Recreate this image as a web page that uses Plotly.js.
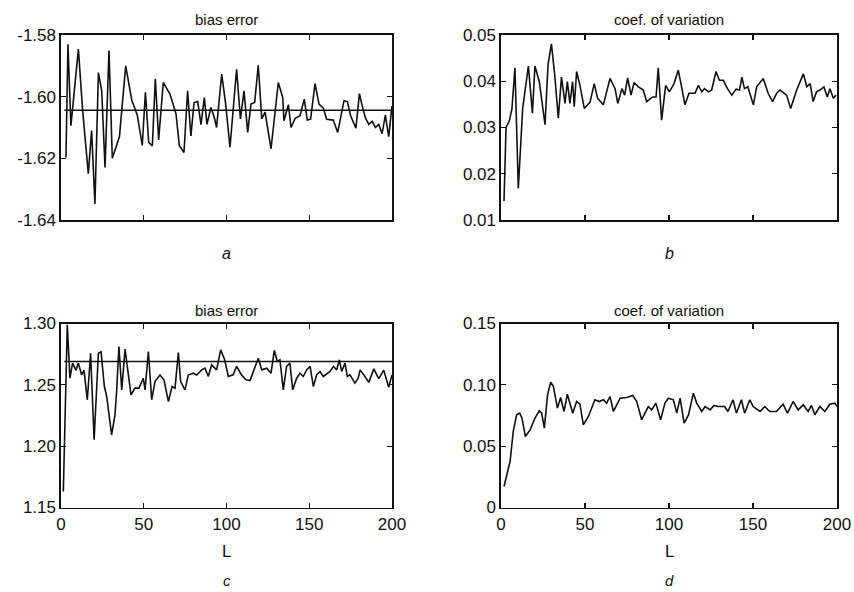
<!DOCTYPE html>
<html>
<head>
<meta charset="utf-8">
<script src="https://cdn.plot.ly/plotly-3.0.1.min.js"></script>
<style>html,body{margin:0;padding:0;background:#fff;}#chart{width:854px;height:592px;}</style>
</head>
<body>
<div id="chart"></div>
<script>
// Panel a: bias error
const aL   = [3,4.2,6,7.5,10.5,13.1,16.5,18.5,20.5,22.6,24.6,26.6,29,31,35.3,39.1,42.7,46.1,49.1,51,53,55.2,57,59,61.8,65.9,69.5,71.5,74.3,76.5,78.5,80.4,82.6,84.6,86.6,88.2,90.6,92.5,94,97.1,99.5,102.1,106.1,108.4,110.6,112.8,114.8,117,119.2,121.3,123.3,126.9,131.3,134,134.7,137.4,139,141.5,144.4,147,148.8,150.8,153.5,155.9,158.5,160.5,164.5,167.2,171,173,175,178.2,180.3,182,184,186,188,190,192,194,196,198,200];
const aVal = [-1.6197,-1.583,-1.6094,-1.6008,-1.5846,-1.6046,-1.625,-1.611,-1.6348,-1.5922,-1.5981,-1.623,-1.585,-1.620,-1.613,-1.590,-1.601,-1.606,-1.6158,-1.5986,-1.6148,-1.616,-1.5942,-1.614,-1.5954,-1.5992,-1.6056,-1.6159,-1.6181,-1.5981,-1.6127,-1.6019,-1.6016,-1.6091,-1.6003,-1.609,-1.6035,-1.6065,-1.610,-1.5927,-1.6024,-1.6164,-1.5911,-1.6072,-1.5981,-1.6116,-1.6024,-1.6019,-1.5898,-1.6072,-1.605,-1.6169,-1.5954,-1.6003,-1.6078,-1.6026,-1.610,-1.607,-1.6062,-1.6008,-1.6076,-1.6073,-1.5958,-1.6024,-1.6037,-1.6073,-1.6076,-1.6116,-1.6013,-1.6016,-1.6062,-1.6102,-1.5990,-1.603,-1.607,-1.609,-1.608,-1.610,-1.609,-1.612,-1.606,-1.613,-1.603];
const aRef = -1.6044;

// Panel b: coef. of variation
const bL   = [1.8,3,5,6.5,8.3,10.3,12.9,16.3,18.7,20.2,22.8,26.2,28,30,32,34.1,36,38.1,39.5,41,42.6,43.6,45,47,49.6,53,55.5,57.5,60.9,64.9,67.9,69.5,72,73.6,75.4,77.4,79.2,81.8,84.7,86.7,90.3,92.3,93.6,95.6,98,100.2,103,105.5,107.5,109.5,111.9,115.5,117.5,119.5,121.1,123.5,125.4,128,130,132.4,134.8,137.4,140,142,143.4,144.9,146.9,150.2,152.2,156.1,159,161.7,164.1,166.1,170,172.4,176,180,182,184,185.8,187.8,189.8,192.2,194.2,195.8,197.8,199.4];
const bVal = [0.0141,0.030,0.0315,0.034,0.0429,0.0168,0.0341,0.0433,0.0331,0.0433,0.0399,0.0306,0.0436,0.0481,0.0413,0.032,0.0409,0.0352,0.0399,0.0352,0.0399,0.0345,0.0421,0.0391,0.0341,0.0355,0.0395,0.0363,0.0349,0.0406,0.0384,0.0352,0.0384,0.037,0.0407,0.037,0.0397,0.0388,0.0381,0.0356,0.0366,0.0366,0.0429,0.0316,0.0391,0.0377,0.0395,0.0424,0.0388,0.0349,0.0374,0.0374,0.0391,0.0377,0.0384,0.0377,0.0381,0.0421,0.0402,0.0402,0.0384,0.037,0.0383,0.0381,0.0409,0.0384,0.0388,0.0349,0.0388,0.0406,0.0374,0.0356,0.0374,0.0381,0.037,0.0341,0.0381,0.0416,0.0388,0.0395,0.0356,0.0377,0.0381,0.0388,0.0366,0.0384,0.0363,0.037];

// Panel c: bias error
const cL   = [1.4,3.8,5.4,7,9,10.5,12.5,13.9,15.9,17.9,20,22.6,24.2,26.2,27.6,30.6,32.6,33.6,35,36.7,38.7,42.3,44.7,47.1,49.7,50.8,52.8,54.8,56.8,59.8,62.2,64.9,67.1,68.9,70.9,72.3,74.9,76.9,80,82,85,87,89,91,94,96.5,98.9,101.1,104,106.1,109,111.8,114.2,117.2,119.2,121.3,124.3,126.9,128.9,130.7,132.3,134.3,136.3,138.3,140,142.4,144.4,146.4,148.4,150.5,152.5,154.5,156.5,158.5,162.5,164.6,166.6,168.2,169.6,171.6,173,174.6,177.6,179.6,180.7,183,186,189,192,195,198,200];
const cVal = [1.163,1.299,1.2554,1.2677,1.262,1.2677,1.258,1.262,1.2378,1.2758,1.2052,1.2758,1.277,1.2486,1.2405,1.2092,1.2255,1.2446,1.2813,1.2459,1.2791,1.2418,1.2473,1.2473,1.2554,1.2459,1.2772,1.2378,1.2527,1.258,1.2541,1.2364,1.2486,1.2473,1.2764,1.2527,1.2459,1.258,1.2595,1.258,1.2622,1.2636,1.2568,1.2663,1.2622,1.2785,1.2704,1.2568,1.2582,1.265,1.2582,1.2541,1.2535,1.265,1.2717,1.2622,1.2636,1.2595,1.278,1.2690,1.2704,1.2459,1.265,1.2677,1.2459,1.2554,1.2595,1.2568,1.2622,1.265,1.2486,1.2582,1.2609,1.2568,1.2609,1.265,1.2622,1.2704,1.2609,1.2677,1.2568,1.2582,1.2514,1.2554,1.2622,1.258,1.252,1.263,1.255,1.262,1.248,1.258];
const cRef = 1.269;

// Panel d: coef. of variation
const dL   = [1.8,3.4,5.4,7.3,9.3,11.1,12.5,14.5,17.3,20.2,22.8,24.2,25.8,27.7,29.6,31.2,33.6,35.5,37.5,39.5,41.5,42.7,45,47,49,52,55.9,58.5,60.9,62.9,64.9,66.9,68.9,70.9,74.8,78.4,80.8,83.7,85.7,87.7,89.7,92.2,95,97.6,99.6,102.6,104.6,106.6,109,111.6,114.5,116.5,119.5,121.5,124.5,126.8,129.4,133.1,135.1,138.1,140.1,143.1,145,148.1,150.1,154.2,157,160,163.9,167.9,170.5,173.9,176.9,179.9,182.8,184.8,186.8,189.8,192.8,195.7,198.7,200];
const dVal = [0.0171,0.0253,0.0375,0.062,0.0755,0.0769,0.0728,0.0579,0.0633,0.0728,0.0788,0.0769,0.0647,0.0918,0.1022,0.0986,0.081,0.0897,0.0783,0.0924,0.0823,0.0769,0.0864,0.0842,0.0674,0.0742,0.0878,0.0864,0.0878,0.0851,0.0905,0.0783,0.0837,0.0891,0.0897,0.0913,0.0864,0.0715,0.0769,0.0823,0.0796,0.0851,0.0715,0.0851,0.0891,0.0878,0.0769,0.0891,0.0688,0.0755,0.0932,0.0851,0.0783,0.0823,0.0796,0.0832,0.0823,0.0823,0.0783,0.0878,0.0769,0.0878,0.0769,0.0878,0.0823,0.0783,0.0823,0.0783,0.0783,0.0842,0.0769,0.0864,0.0796,0.0837,0.0783,0.0832,0.0756,0.0823,0.0783,0.0842,0.0851,0.0823];

const xTicks = [0,50,100,150,200];
const xTickText = ['0','50','100','150','200'];
const aTicks = [-1.64,-1.62,-1.60,-1.58];
const aTickText = ['-1.64','-1.62','-1.60','-1.58'];
const bTicks = [0.01,0.02,0.03,0.04,0.05];
const bTickText = ['0.01','0.02','0.03','0.04','0.05'];
const cTicks = [1.15,1.20,1.25,1.30];
const cTickText = ['1.15','1.20','1.25','1.30'];
const dTicks = [0,0.05,0.10,0.15];
const dTickText = ['0','0.05','0.10','0.15'];

const titles = ['bias error','coef. of variation','bias error','coef. of variation'];
const letters = ['a','b','c','d'];
const xLabel = 'L';

const lineStyle = {color:'#111', width:1.6};
function tr(x,y,xa,ya){return {x:x,y:y,xaxis:xa,yaxis:ya,type:'scatter',mode:'lines',line:lineStyle,hoverinfo:'skip',showlegend:false};}

const traces = [
  tr(aL,aVal,'x','y'),
  tr([2,200],[aRef,aRef],'x','y'),
  tr(bL,bVal,'x2','y2'),
  tr(cL,cVal,'x3','y3'),
  tr([2,200],[cRef,cRef],'x3','y3'),
  tr(dL,dVal,'x4','y4')
];

const font = {family:'Liberation Sans, Arial, Helvetica, sans-serif', size:17, color:'#111'};
function xax(dom, anchor, labels){
  return {domain:dom, anchor:anchor, range:[0,200], tickvals:xTicks, ticktext:xTickText,
    showticklabels:labels, ticks:'inside', ticklen:5, tickwidth:1.2, tickcolor:'#111',
    showline:true, linecolor:'#111', linewidth:1.6, mirror:'ticks', showgrid:false, zeroline:false,
    tickfont:font, fixedrange:true};
}
function yax(dom, anchor, range, tv, tt){
  return {domain:dom, anchor:anchor, range:range, tickvals:tv, ticktext:tt,
    ticks:'inside', ticklen:5, tickwidth:1.2, tickcolor:'#111',
    showline:true, linecolor:'#111', linewidth:1.6, mirror:'ticks', showgrid:false, zeroline:false,
    tickfont:font, fixedrange:true};
}
const xL = [61/854, 392/854], xR = [501/854, 837/854];
const yT = [1-220/592, 1-35/592], yB = [1-507.5/592, 1-323.5/592];

const ann = [];
const cx = [(61+392)/2/854, (501+837)/2/854];
function addText(text, x, ypx, size){
  ann.push({text:text, x:x, y:1-ypx/592, xref:'paper', yref:'paper', showarrow:false,
    xanchor:'center', yanchor:'middle', font:Object.assign({}, font, {size:size})});
}
addText(titles[0], cx[0], 20, 15);
addText(titles[1], cx[1], 20, 15);
addText(titles[2], cx[0], 310, 15);
addText(titles[3], cx[1], 310, 15);
addText('<i>'+letters[0]+'</i>', cx[0], 253, 16);
addText('<i>'+letters[1]+'</i>', cx[1], 253, 16);
addText(xLabel, cx[0], 551, 17);
addText(xLabel, cx[1], 551, 17);
addText('<i>'+letters[2]+'</i>', cx[0], 580, 15);
addText('<i>'+letters[3]+'</i>', cx[1], 580, 15);

const layout = {
  width:854, height:592, margin:{l:0,r:0,t:0,b:0},
  paper_bgcolor:'#fff', plot_bgcolor:'#fff', font:font, showlegend:false,
  xaxis: xax(xL,'y',false),
  yaxis: yax(yT,'x',[-1.64,-1.58],aTicks,aTickText),
  xaxis2: xax(xR,'y2',false),
  yaxis2: yax(yT,'x2',[0.01,0.05],bTicks,bTickText),
  xaxis3: xax(xL,'y3',true),
  yaxis3: yax(yB,'x3',[1.15,1.30],cTicks,cTickText),
  xaxis4: xax(xR,'y4',true),
  yaxis4: yax(yB,'x4',[0,0.15],dTicks,dTickText),
  annotations: ann
};
Plotly.newPlot('chart', traces, layout, {staticPlot:true, displayModeBar:false});
</script>
</body>
</html>
